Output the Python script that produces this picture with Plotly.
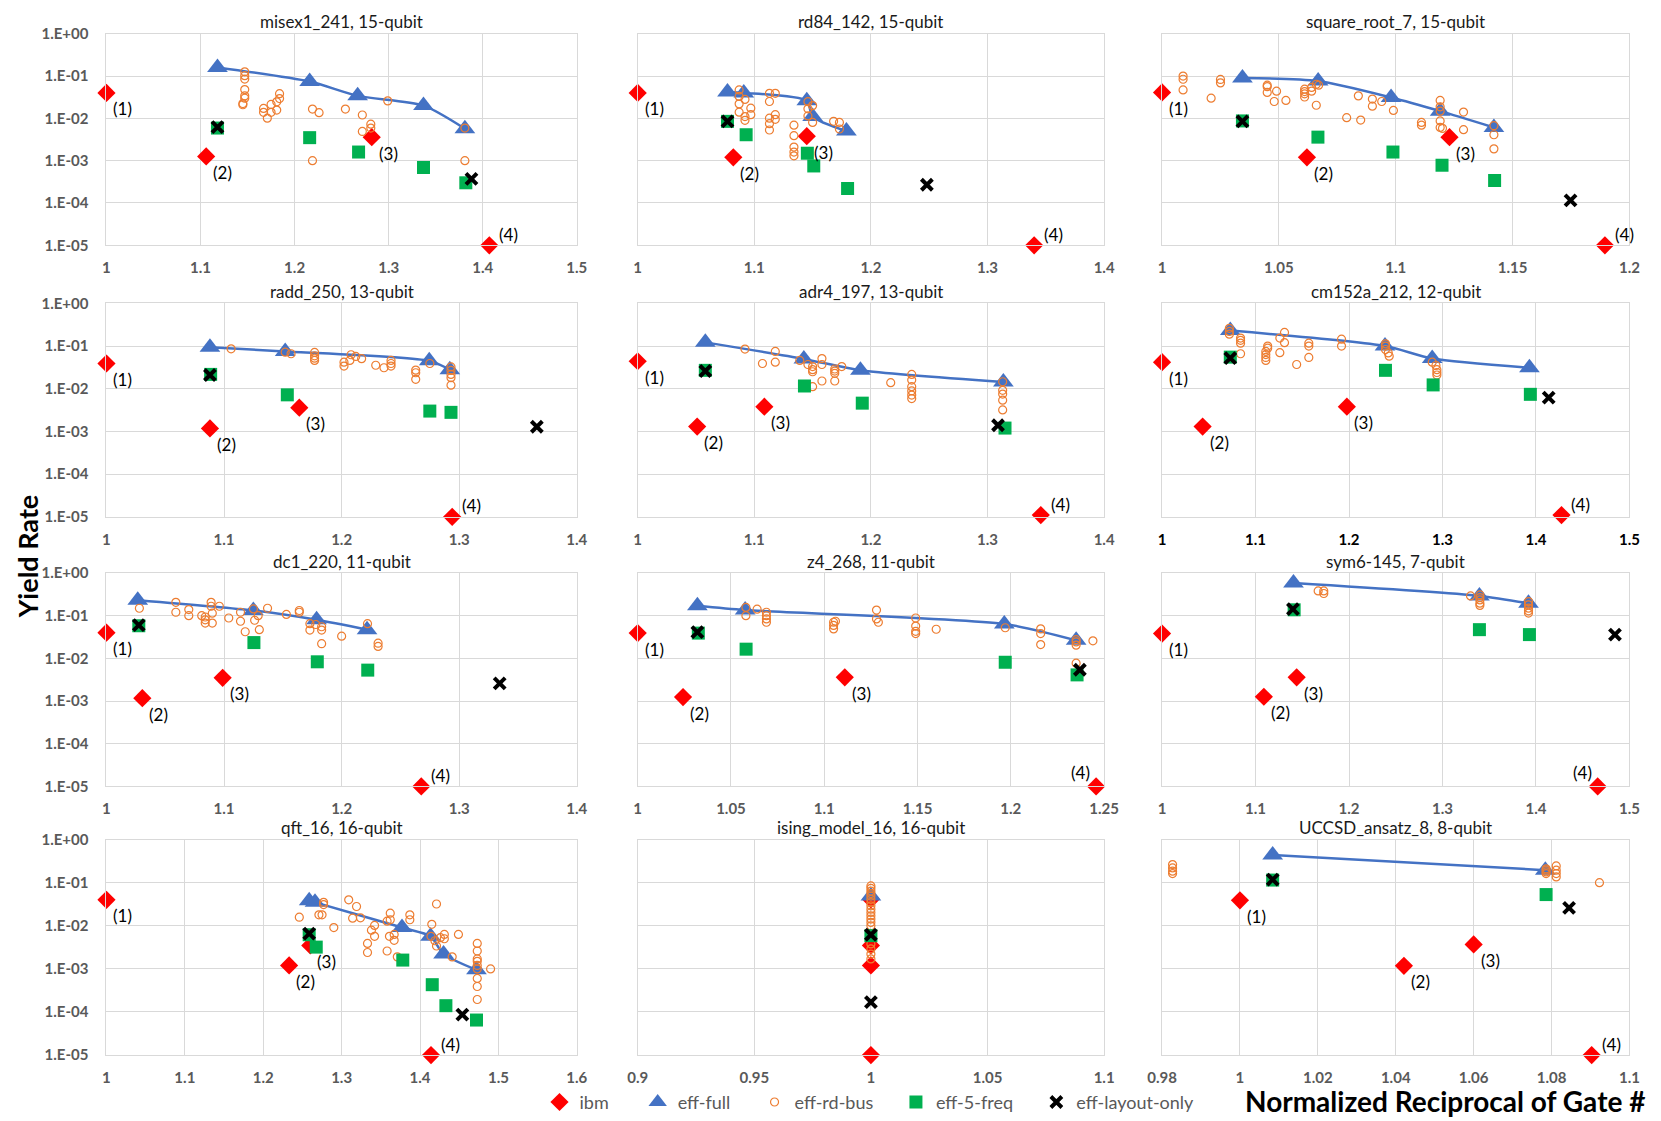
import math
import plotly.graph_objects as go

BENCHMARKS = ["misex1_241", "rd84_142", "square_root_7", "radd_250", "adr4_197", "cm152a_212",
              "dc1_220", "z4_268", "sym6-145", "qft_16", "ising_model_16", "UCCSD_ansatz_8"]
QUBITS = [15, 15, 15, 13, 13, 12, 11, 11, 7, 16, 16, 8]

X_TICK_LABELS = [
    ["1", "1.1", "1.2", "1.3", "1.4", "1.5"],
    ["1", "1.1", "1.2", "1.3", "1.4"],
    ["1", "1.05", "1.1", "1.15", "1.2"],
    ["1", "1.1", "1.2", "1.3", "1.4"],
    ["1", "1.1", "1.2", "1.3", "1.4"],
    ["1", "1.1", "1.2", "1.3", "1.4", "1.5"],
    ["1", "1.1", "1.2", "1.3", "1.4"],
    ["1", "1.05", "1.1", "1.15", "1.2", "1.25"],
    ["1", "1.1", "1.2", "1.3", "1.4", "1.5"],
    ["1", "1.1", "1.2", "1.3", "1.4", "1.5", "1.6"],
    ["0.9", "0.95", "1", "1.05", "1.1"],
    ["0.98", "1", "1.02", "1.04", "1.06", "1.08", "1.1"],
]
Y_TICK_LABELS = ["1.E+00", "1.E-01", "1.E-02", "1.E-03", "1.E-04", "1.E-05"]
SERIES = ["ibm", "eff-full", "eff-rd-bus", "eff-5-freq", "eff-layout-only"]
IBM_LABELS = ["(1)", "(2)", "(3)", "(4)"]

# ibm: points (1)..(4)
IBM_X = [
    [1.0, 1.106, 1.282, 1.407],
    [1.0, 1.082, 1.145, 1.34],
    [1.0, 1.062, 1.123, 1.1895],
    [1.0, 1.088, 1.164, 1.294],
    [1.0, 1.051, 1.1086, 1.3457],
    [1.0, 1.0434, 1.1977, 1.4273],
    [1.0, 1.0305, 1.0988, 1.2677],
    [1.0, 1.0243, 1.111, 1.2457],
    [1.0, 1.1089, 1.144, 1.466],
    [1.0, 1.233, 1.26, 1.414],
    [1.0, 1.0, 1.0, 1.0],
    [1.0, 1.0421, 1.06, 1.0903],
]
IBM_Y = [
    [0.040, 0.00126, 0.0036, 1e-5],
    [0.040, 0.0012, 0.0038, 1e-5],
    [0.041, 0.0012, 0.0036, 1e-5],
    [0.039, 0.00118, 0.0036, 1e-5],
    [0.044, 0.0013, 0.0038, 1.1e-5],
    [0.042, 0.0013, 0.0038, 1.1e-5],
    [0.040, 0.00117, 0.0035, 1e-5],
    [0.039, 0.00124, 0.0036, 1e-5],
    [0.038, 0.00126, 0.0036, 1e-5],
    [0.040, 0.0012, 0.0035, 1e-5],
    [0.041, 0.0012, 0.0035, 1e-5],
    [0.039, 0.00118, 0.0037, 1e-5],
]

# eff-full (also the frontier line)
FULL_X = [
    [1.118, 1.216, 1.267, 1.337, 1.381],
    [1.077, 1.091, 1.145, 1.150, 1.179],
    [1.0344, 1.0668, 1.098, 1.119, 1.142],
    [1.088, 1.152, 1.2745, 1.292],
    [1.058, 1.1425, 1.191, 1.3136],
    [1.073, 1.2385, 1.289, 1.393],
    [1.0266, 1.1249, 1.1787, 1.2216],
    [1.032, 1.0576, 1.1965, 1.235],
    [1.1406, 1.3395, 1.392],
    [1.2586, 1.266, 1.377, 1.4134, 1.43, 1.472],
    [1.0],
    [1.0084, 1.0784],
]
FULL_Y = [
    [0.16, 0.074, 0.034, 0.020, 0.0057],
    [0.042, 0.040, 0.026, 0.011, 0.0050],
    [0.09, 0.076, 0.031, 0.0148, 0.0061],
    [0.094, 0.075, 0.045, 0.028],
    [0.122, 0.05, 0.027, 0.0144],
    [0.23, 0.1, 0.051, 0.031],
    [0.23, 0.132, 0.08, 0.047],
    [0.17, 0.135, 0.064, 0.0264],
    [0.58, 0.29, 0.195],
    [0.038, 0.035, 0.0091, 0.0057, 0.0022, 0.00095],
    [0.049],
    [0.44, 0.195],
]

RDBUS_X = [
    [1.147, 1.147, 1.147, 1.147, 1.147, 1.147, 1.145, 1.145, 1.167, 1.167, 1.171, 1.175, 1.175, 1.181,
     1.181, 1.184, 1.184, 1.219, 1.219, 1.226, 1.254, 1.272, 1.272, 1.281, 1.281, 1.299, 1.381, 1.381],
    [1.087, 1.087, 1.087, 1.087, 1.092, 1.092, 1.092, 1.097, 1.097, 1.113, 1.113, 1.113, 1.113, 1.113,
     1.118, 1.118, 1.118, 1.134, 1.134, 1.134, 1.134, 1.134, 1.146, 1.146, 1.146, 1.150, 1.150, 1.168,
     1.173, 1.173],
    [1.009, 1.009, 1.009, 1.021, 1.025, 1.025, 1.045, 1.045, 1.045, 1.049, 1.048, 1.053, 1.061, 1.061,
     1.061, 1.061, 1.064, 1.064, 1.066, 1.066, 1.067, 1.079, 1.084, 1.085, 1.090, 1.090, 1.094, 1.099,
     1.111, 1.111, 1.119, 1.119, 1.119, 1.119, 1.119, 1.120, 1.129, 1.129, 1.142, 1.142, 1.142],
    [1.106, 1.152, 1.157, 1.177, 1.177, 1.177, 1.177, 1.202, 1.202, 1.207, 1.208, 1.212, 1.217, 1.229,
     1.236, 1.242, 1.242, 1.242, 1.263, 1.263, 1.263, 1.275, 1.293, 1.293, 1.293, 1.293, 1.293],
    [1.092, 1.118, 1.118, 1.107, 1.139, 1.146, 1.150, 1.150, 1.150, 1.150, 1.158, 1.158, 1.158, 1.169,
     1.169, 1.169, 1.169, 1.175, 1.217, 1.235, 1.235, 1.235, 1.235, 1.235, 1.235, 1.313, 1.313, 1.313,
     1.313, 1.313],
    [1.072, 1.072, 1.072, 1.084, 1.084, 1.084, 1.084, 1.111, 1.111, 1.111, 1.111, 1.113, 1.113, 1.126,
     1.126, 1.131, 1.131, 1.144, 1.157, 1.157, 1.157, 1.192, 1.192, 1.239, 1.239, 1.239, 1.242, 1.243,
     1.289, 1.293, 1.294, 1.294, 1.294],
    [1.028, 1.059, 1.059, 1.070, 1.070, 1.081, 1.084, 1.084, 1.084, 1.090, 1.090, 1.089, 1.089, 1.096,
     1.104, 1.114, 1.114, 1.118, 1.125, 1.126, 1.129, 1.130, 1.137, 1.153, 1.164, 1.164, 1.173, 1.173,
     1.178, 1.183, 1.183, 1.183, 1.200, 1.222, 1.231, 1.231],
    [1.058, 1.058, 1.064, 1.069, 1.069, 1.069, 1.069, 1.105, 1.105, 1.105, 1.106, 1.128, 1.128, 1.129,
     1.149, 1.149, 1.149, 1.149, 1.160, 1.197, 1.216, 1.216, 1.216, 1.235, 1.235, 1.235, 1.235, 1.244],
    [1.167, 1.173, 1.173, 1.330, 1.340, 1.340, 1.340, 1.340, 1.340, 1.392, 1.392, 1.392, 1.392, 1.392],
    [1.246, 1.271, 1.275, 1.277, 1.277, 1.290, 1.309, 1.319, 1.314, 1.324, 1.333, 1.333, 1.338, 1.342,
     1.342, 1.358, 1.358, 1.362, 1.362, 1.361, 1.367, 1.367, 1.371, 1.387, 1.387, 1.415, 1.414, 1.421,
     1.421, 1.419, 1.426, 1.431, 1.431, 1.441, 1.449, 1.473, 1.473, 1.473, 1.473, 1.473, 1.473, 1.473,
     1.473, 1.473, 1.490],
    [1.0, 1.0, 1.0, 1.0, 1.0, 1.0, 1.0, 1.0, 1.0, 1.0, 1.0, 1.0, 1.0, 1.0, 1.0, 1.0, 1.0, 1.0],
    [0.9827, 0.9827, 0.9827, 0.9827, 1.0786, 1.0786, 1.0786, 1.0786, 1.0812, 1.0812, 1.0812, 1.0812,
     1.0923],
]
RDBUS_Y = [
    [0.126, 0.102, 0.085, 0.048, 0.034, 0.030, 0.0224, 0.021, 0.0172, 0.0139, 0.0101, 0.0213, 0.0139,
     0.0246, 0.0157, 0.0384, 0.0294, 0.0166, 0.001, 0.0136, 0.0166, 0.012, 0.0049, 0.0073, 0.0059,
     0.0259, 0.0059, 0.001],
    [0.047, 0.033, 0.022, 0.014, 0.028, 0.011, 0.009, 0.0174, 0.0122, 0.039, 0.025, 0.0101, 0.0075,
     0.0053, 0.039, 0.0122, 0.0095, 0.0069, 0.0039, 0.0021, 0.0016, 0.0013, 0.0248, 0.0168, 0.0114,
     0.020, 0.008, 0.0085, 0.008, 0.0056],
    [0.1, 0.084, 0.047, 0.030, 0.083, 0.069, 0.061, 0.056, 0.041, 0.044, 0.025, 0.0266, 0.049, 0.043,
     0.038, 0.032, 0.054, 0.044, 0.064, 0.0204, 0.061, 0.0104, 0.034, 0.0091, 0.0285, 0.0194, 0.025,
     0.0154, 0.008, 0.0069, 0.0266, 0.0187, 0.0148, 0.0087, 0.0061, 0.0058, 0.0141, 0.0054, 0.0067,
     0.0041, 0.0019],
    [0.086, 0.072, 0.066, 0.071, 0.059, 0.052, 0.046, 0.042, 0.034, 0.046, 0.0625, 0.057, 0.0506,
     0.0355, 0.031, 0.046, 0.039, 0.034, 0.0273, 0.0237, 0.0166, 0.039, 0.0325, 0.0268, 0.0217, 0.0182,
     0.0121],
    [0.085, 0.075, 0.042, 0.039, 0.046, 0.037, 0.033, 0.028, 0.025, 0.0112, 0.051, 0.037, 0.0152,
     0.029, 0.026, 0.023, 0.0152, 0.033, 0.0139, 0.0217, 0.016, 0.0112, 0.0089, 0.0071, 0.0059,
     0.0146, 0.0092, 0.0075, 0.0054, 0.0032],
    [0.26, 0.22, 0.19, 0.154, 0.136, 0.117, 0.066, 0.075, 0.063, 0.054, 0.046, 0.1, 0.089, 0.154,
     0.07, 0.208, 0.12, 0.037, 0.117, 0.1, 0.054, 0.145, 0.1, 0.113, 0.1, 0.083, 0.069, 0.058, 0.042,
     0.035, 0.028, 0.024, 0.021],
    [0.149, 0.205, 0.12, 0.139, 0.1, 0.1, 0.093, 0.08, 0.067, 0.067, 0.114, 0.205, 0.166, 0.166,
     0.088, 0.12, 0.074, 0.042, 0.144, 0.078, 0.1, 0.047, 0.149, 0.107, 0.132, 0.12, 0.065, 0.046,
     0.062, 0.055, 0.046, 0.022, 0.033, 0.065, 0.0226, 0.019],
    [0.156, 0.1, 0.142, 0.12, 0.1, 0.084, 0.070, 0.070, 0.059, 0.049, 0.074, 0.135, 0.084, 0.070,
     0.088, 0.057, 0.043, 0.038, 0.048, 0.052, 0.049, 0.038, 0.021, 0.0274, 0.0243, 0.0204, 0.0077,
     0.0257],
    [0.38, 0.38, 0.33, 0.29, 0.305, 0.265, 0.234, 0.196, 0.174, 0.214, 0.179, 0.15, 0.13, 0.115],
    [0.0158, 0.018, 0.018, 0.035, 0.031, 0.0091, 0.04, 0.028, 0.015, 0.0153, 0.0039, 0.0024, 0.0079,
     0.0102, 0.0057, 0.0128, 0.0026, 0.0196, 0.0138, 0.0057, 0.0063, 0.0046, 0.0019, 0.018, 0.0138,
     0.0108, 0.0057, 0.032, 0.0034, 0.0045, 0.0053, 0.0063, 0.005, 0.0019, 0.0063, 0.0039, 0.0026,
     0.0017, 0.0015, 0.0012, 0.001, 0.0006, 0.00039, 0.000195, 0.001],
    [0.084, 0.074, 0.064, 0.056, 0.049, 0.041, 0.0347, 0.029, 0.0243, 0.0204, 0.017, 0.0143, 0.012,
     0.01, 0.0038, 0.0029, 0.0022, 0.0017],
    [0.263, 0.22, 0.185, 0.163, 0.21, 0.195, 0.178, 0.163, 0.245, 0.195, 0.163, 0.136, 0.1],
]

FREQ_X = [
    [1.118, 1.216, 1.268, 1.337, 1.382],
    [1.077, 1.093, 1.1455, 1.151, 1.18],
    [1.0344, 1.0667, 1.0988, 1.1198, 1.1423],
    [1.0886, 1.1538, 1.275, 1.293],
    [1.058, 1.143, 1.1926, 1.315],
    [1.073, 1.239, 1.29, 1.394],
    [1.0275, 1.1254, 1.1793, 1.2222],
    [1.0325, 1.0581, 1.197, 1.2355],
    [1.1413, 1.3395, 1.393],
    [1.2586, 1.2676, 1.378, 1.4156, 1.433, 1.472],
    [1.0],
    [1.0084, 1.0786],
]
FREQ_Y = [
    [0.0059, 0.0035, 0.0016, 0.00069, 0.0003],
    [0.0085, 0.0041, 0.0015, 0.00075, 0.00022],
    [0.0087, 0.0036, 0.0016, 0.00078, 0.00034],
    [0.0217, 0.0072, 0.0030, 0.0028],
    [0.027, 0.0116, 0.0046, 0.0012],
    [0.055, 0.027, 0.0123, 0.0074],
    [0.058, 0.0234, 0.0083, 0.0053],
    [0.039, 0.0164, 0.0081, 0.0041],
    [0.137, 0.047, 0.036],
    [0.0062, 0.0032, 0.0016, 0.00043, 0.00014, 0.000065],
    [0.0059],
    [0.115, 0.053],
]

LAYOUT_X = [
    [1.118, 1.388], [1.077, 1.248], [1.0344, 1.1748], [1.088, 1.366], [1.058, 1.309], [1.073, 1.4136],
    [1.0275, 1.3344], [1.032, 1.237], [1.14, 1.4845], [1.2586, 1.454], [1.0, 1.0], [1.0084, 1.0845],
]
LAYOUT_Y = [
    [0.0062, 0.00037], [0.0085, 0.00027], [0.0085, 0.000115], [0.021, 0.00129], [0.026, 0.0014],
    [0.052, 0.0062], [0.06, 0.0026], [0.041, 0.0054], [0.142, 0.036], [0.0066, 0.000087],
    [0.0062, 0.00017], [0.118, 0.026],
]

# ---- layout / style ----
W, H = 1661, 1121
PAGE_OFFSET = 8  # the page body margin shifts the figure by this much
COLS = [(93, 572), (634, 1109), (1168, 1644)]
ROWS = [(24, 239), (298, 515), (572, 789), (843, 1062)]
LEGEND_SYMBOL_X = [554, 654, 773, 917, 1060]
LEGEND_Y = 1110
LABEL4_LEFT = {"z4_268", "sym6-145"}
NO_LABELS = {"ising_model_16"}
BLACK_TICKS = {"cm152a_212"}

FONT = "Lato"
GRID = "#d9d9d9"
BLUE = "#4472c4"

MARKERS = [
    dict(symbol="diamond", size=14, color="#ff0000"),
    dict(symbol="triangle-up", size=18, color=BLUE),
    dict(symbol="circle-open", size=8, color="#ed7d31", line=dict(width=1.2, color="#ed7d31")),
    dict(symbol="square", size=13, color="#00b050"),
    dict(symbol="x-thin", size=11, color="#000000", line=dict(width=4, color="#000000")),
]


def fx(px):
    return (px - PAGE_OFFSET) / W


def fy(py):
    return 1 - (py - PAGE_OFFSET) / H


fig = go.Figure()
axes = {}
annotations = []

for i, name in enumerate(BENCHMARKS):
    r, c = divmod(i, 3)
    sfx = "" if i == 0 else str(i + 1)
    xa, ya = "x" + sfx, "y" + sfx

    fig.add_trace(go.Scatter(
        x=FULL_X[i], y=FULL_Y[i], mode="lines", xaxis=xa, yaxis=ya,
        line=dict(color=BLUE, width=2.5, shape="spline", smoothing=0.7),
        showlegend=False, hoverinfo="skip", cliponaxis=False,
    ))

    series = [(IBM_X[i], IBM_Y[i]), (FULL_X[i], FULL_Y[i]), (RDBUS_X[i], RDBUS_Y[i]),
              (FREQ_X[i], FREQ_Y[i]), (LAYOUT_X[i], LAYOUT_Y[i])]
    for k, (xs, ys) in enumerate(series):
        fig.add_trace(go.Scatter(
            x=xs, y=ys, mode="markers", name=SERIES[k], xaxis=xa, yaxis=ya,
            marker=MARKERS[k], cliponaxis=False,
            showlegend=(i == 0), legend="legend" if k == 0 else f"legend{k + 1}",
        ))

    x0, x1 = COLS[c]
    y0, y1 = ROWS[r]
    tick_color = "#000000" if name in BLACK_TICKS else "#595959"
    xticks = [float(t) for t in X_TICK_LABELS[i]]
    axes["xaxis" + sfx] = dict(
        domain=[fx(x0), fx(x1)], anchor=ya, range=[xticks[0], xticks[-1]],
        tickvals=xticks, ticktext=X_TICK_LABELS[i],
        showgrid=True, gridcolor=GRID, gridwidth=1, zeroline=False,
        showline=True, mirror=True, linecolor=GRID, linewidth=1,
        ticks="outside", ticklen=9, tickcolor="rgba(0,0,0,0)",
        tickfont=dict(family=FONT, size=15, color=tick_color, weight="bold"),
        fixedrange=True,
    )
    axes["yaxis" + sfx] = dict(
        domain=[fy(y1), fy(y0)], anchor=xa, type="log", range=[-5, 0],
        tickvals=[float(t) for t in Y_TICK_LABELS], ticktext=Y_TICK_LABELS,
        showticklabels=(c == 0),
        showgrid=True, gridcolor=GRID, gridwidth=1, zeroline=False,
        showline=True, mirror=True, linecolor=GRID, linewidth=1,
        ticks="outside", ticklen=14, tickcolor="rgba(0,0,0,0)",
        tickfont=dict(family=FONT, size=15, color="#595959", weight="bold"),
        fixedrange=True,
    )

    annotations.append(dict(
        text=f"{name}, {QUBITS[i]}-qubit", xref="paper", yref="paper",
        x=fx((x0 + x1) / 2), y=fy(y0 - 12), xanchor="center", yanchor="middle",
        showarrow=False, font=dict(family=FONT, size=17, color="#1a1a1a"),
    ))

    if name not in NO_LABELS:
        for k, lab in enumerate(IBM_LABELS):
            px_, py_ = IBM_X[i][k], IBM_Y[i][k]
            if k < 3:
                anchor, xs_, ys_ = "left", 5, -16
            elif name in LABEL4_LEFT:
                anchor, xs_, ys_ = "right", -4, 14
            else:
                anchor, xs_, ys_ = "left", 8, 11
            annotations.append(dict(
                text=lab, xref=xa, yref=ya, x=px_, y=math.log10(py_),
                xanchor=anchor, yanchor="middle", xshift=xs_, yshift=ys_,
                showarrow=False, font=dict(family=FONT, size=17, color="#000000"),
            ))

annotations.append(dict(
    text="Yield Rate", xref="paper", yref="paper", x=fx(12), y=fy(555),
    xanchor="center", yanchor="middle", textangle=-90, showarrow=False,
    font=dict(family=FONT, size=27, color="#000000", weight="bold"),
))
annotations.append(dict(
    text="Normalized Reciprocal of Gate #", xref="paper", yref="paper", x=fx(1456), y=fy(1109),
    xanchor="center", yanchor="middle", showarrow=False,
    font=dict(family=FONT, size=28, color="#000000", weight="bold"),
))

legends = {}
for k, sx in enumerate(LEGEND_SYMBOL_X):
    key = "legend" if k == 0 else f"legend{k + 1}"
    legends[key] = dict(
        x=fx(sx - 20), y=fy(LEGEND_Y), xanchor="left", yanchor="middle", orientation="h",
        font=dict(family=FONT, size=18, color="#595959"), bgcolor="rgba(0,0,0,0)",
        borderwidth=0,
    )

fig.update_layout(
    width=W, height=H, margin=dict(l=0, r=0, t=0, b=0),
    paper_bgcolor="white", plot_bgcolor="white",
    annotations=annotations, **axes, **legends,
)

fig.write_html("out.html")
